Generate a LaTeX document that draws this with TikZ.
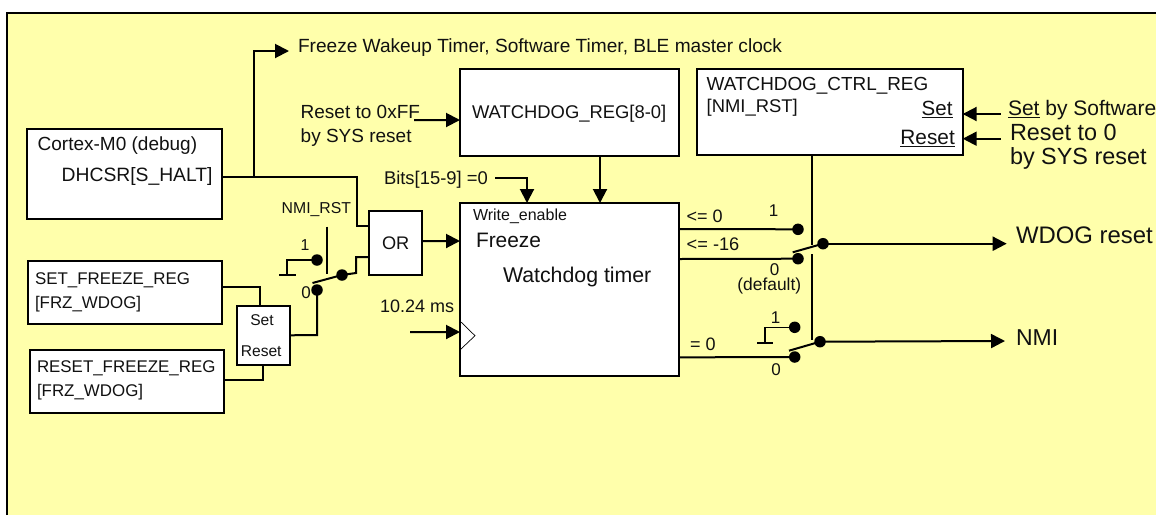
\documentclass[tikz,border=0pt]{standalone}
\usepackage{fontspec}
\setmainfont{Liberation Sans}
\usetikzlibrary{arrows.meta}
\definecolor{bgyellow}{HTML}{FFFFAB}
\definecolor{ink}{HTML}{111111}
\newcommand{\fsz}[1]{\fontsize{#1}{#1}\selectfont}
\tikzset{
  x=1pt,y=-1pt,
  regbox/.style={draw=black,fill=white,line width=2pt,anchor=north west,inner sep=0pt,outer sep=0pt},
  wire/.style={draw=black,line width=2pt,line join=miter},
  thinwire/.style={draw=black,line width=1.6pt},
  arrowwire/.style={wire,-{Triangle[length=14pt,width=14pt]}},
  dotnode/.style={circle,fill=black,inner sep=0pt,outer sep=0pt,minimum size=11.5pt},
  txt/.style={anchor=base west,inner sep=0pt,outer sep=0pt,text=ink},
  midtxt/.style={anchor=base,inner sep=0pt,outer sep=0pt,text=ink},
  rtxt/.style={anchor=base east,inner sep=0pt,outer sep=0pt,text=ink},
}
\begin{document}
\begin{tikzpicture}
\useasboundingbox (0,0) rectangle (1156,515);
\fill[bgyellow] (7,13) rectangle (1156,515);
\draw[black,line width=2.4pt] (7,515) -- (7,13) -- (1156,13);

% boxes
\node[regbox,minimum width=195pt,minimum height=89.7pt] (cortex) at (26.7,129) {};
\node[regbox,minimum width=194pt,minimum height=62.5pt] (setreg) at (28,261) {};
\node[regbox,minimum width=194pt,minimum height=62.5pt] (rstreg) at (30,350) {};
\node[regbox,minimum width=53pt,minimum height=59.5pt] (sr) at (237,305.5) {};
\node[regbox,minimum width=53pt,minimum height=64pt] (orbox) at (369,210.7) {};
\node[regbox,minimum width=219pt,minimum height=172.7pt] (timer) at (460,203) {};
\node[regbox,minimum width=219pt,minimum height=86.7pt] (wreg) at (460,69) {};
\node[regbox,minimum width=266pt,minimum height=86pt] (ctrl) at (696.7,69) {};

% switch contacts
\node[dotnode] (l1) at (317,260) {};
\node[dotnode] (l0) at (317,290) {};
\node[dotnode] (lp) at (342,275) {};
\node[dotnode] (a1) at (798,229.3) {};
\node[dotnode] (a0) at (798,258.7) {};
\node[dotnode] (ap) at (823,243.7) {};
\node[dotnode] (b1) at (794.7,327.3) {};
\node[dotnode] (b0) at (794.7,357) {};
\node[dotnode] (bp) at (820,341.7) {};

% free ends
\coordinate (frz) at (289,51);
\coordinate (rstff) at (414,120);
\coordinate (bitsend) at (495,177.7);
\coordinate (clk) at (410,332);
\coordinate (setsw) at (1000.7,114);
\coordinate (rstsw) at (1000.7,138.7);
\coordinate (wdogend) at (1006.7,243.7);
\coordinate (nmiend) at (1005,341);
\coordinate (gl) at (287,275);
\coordinate (gb) at (765,343);
\coordinate (leverl) at (312.5,283);
\coordinate (levera) at (792.7,252.3);
\coordinate (leverb) at (789,350.7);
\coordinate (nmirst) at (327,226.7);
\coordinate (nmirste) at (327,274);
\coordinate (ctrlj) at (812,245);
\coordinate (ctrlk) at (812,254);
\coordinate (ctrlm) at (812,340);
\coordinate (corj) at (254,176.7);

% left wires
\draw[wire] ([yshift=-2.85pt]cortex.east) -- (357,176.7) -- (357,226) -- ([yshift=16.7pt]orbox.west);
\draw[arrowwire] (corj) -- (254,51) -- (frz);
\draw[wire] (lp.center) -- (356,273) -- (356,257) -- ([yshift=-14.3pt]orbox.west);
\draw[wire] (sr.east) -- (317,335.2) -- (l0.center);
\draw[wire] ([yshift=5.75pt]setreg.east) -- (260,286.5) -- ([xshift=-3.5pt]sr.north);
\draw[wire] ([yshift=1.25pt]rstreg.east) -- (263,380) -- ([xshift=-0.5pt]sr.south);
\draw[thinwire] (l1.center) -- (287,260) -- (gl);
\draw[thinwire] (279,275) -- (296,275);
\draw[wire] (nmirst) -- (nmirste);
\draw[wire] (leverl) -- (lp.center);

% inputs of the blocks
\draw[arrowwire] ([yshift=1.7pt]orbox.east) -- ([yshift=48.35pt]timer.west);
\draw[arrowwire] (clk) -- ([yshift=-42.65pt]timer.west);
\draw[arrowwire] (rstff) -- ([yshift=-7.65pt]wreg.west);
\draw[arrowwire] ([xshift=30.5pt]wreg.south) -- ([xshift=30.5pt]timer.north);
\draw[arrowwire] (bitsend) -- (527,177.7) -- ([xshift=-42.5pt]timer.north);
\draw[arrowwire] (setsw) -- ([yshift=-2pt]ctrl.east);
\draw[arrowwire] (rstsw) -- ([yshift=-26.7pt]ctrl.east);

% right side
\draw[wire] ([xshift=-17.7pt]ctrl.south) -- (ctrlj);
\draw[wire] (ctrlk) -- (ctrlm);
\draw[wire] ([yshift=60.35pt]timer.east) -- (a1.center);
\draw[wire] ([yshift=30.35pt]timer.east) -- (a0.center);
\draw[wire] ([yshift=-68pt]timer.east) -- (b0.center);
\draw[wire] (levera) -- (ap.center);
\draw[wire] (leverb) -- (bp.center);
\draw[arrowwire] (ap.center) -- (wdogend);
\draw[arrowwire] (bp.center) -- (nmiend);
\draw[thinwire] (b1.center) -- (765,327.3) -- (gb);
\draw[thinwire] (757,343) -- (773,343);

% clock mark
\draw[black,line width=0.7pt] (461,322) -- (475,335.7) -- (461,349);

% labels
\node[txt,font=\fsz{19.1}] (tfrz) at (298,52.7) {Freeze Wakeup Timer, Software Timer, BLE master clock};
\node[txt,font=\fsz{19}] (trst1) at (300.7,118) {Reset to 0xFF};
\node[txt,font=\fsz{19}] (trst2) at (300.7,142) {by SYS reset};
\node[txt,font=\fsz{18.4}] (twreg) at (472,118) {WATCHDOG\_REG[8-0]};
\node[txt,font=\fsz{18.9}] (tctrl1) at (706.7,90) {WATCHDOG\_CTRL\_REG};
\node[txt,font=\fsz{18.4}] (tctrl2) at (706.7,112.3) {[NMI\_RST]};
\node[rtxt,font=\fsz{20.5}] (tset) at (952.5,115.7) {\underline{Set}};
\node[rtxt,font=\fsz{20.8}] (treset) at (954.8,144.3) {\underline{Reset}};
\node[txt,font=\fsz{21}] (tsw) at (1008,115.7) {\underline{Set} by Software};
\node[txt,font=\fsz{23.4}] (tr0) at (1010,140) {Reset to 0};
\node[txt,font=\fsz{23.4}] (tr1) at (1010,164) {by SYS reset};
\node[txt,font=\fsz{19}] (tcm) at (37.7,150) {Cortex-M0 (debug)};
\node[txt,font=\fsz{19.3}] (tdh) at (61.7,181) {DHCSR[S\_HALT]};
\node[txt,font=\fsz{16.9}] (ts1) at (35,284) {SET\_FREEZE\_REG};
\node[txt,font=\fsz{16.9}] (ts2) at (35,308) {[FRZ\_WDOG]};
\node[txt,font=\fsz{16.9}] (tr3) at (37,372) {RESET\_FREEZE\_REG};
\node[txt,font=\fsz{16.9}] (tr4) at (37,396.7) {[FRZ\_WDOG]};
\node[midtxt,font=\fsz{15.6}] (tsrs) at (262,325) {Set};
\node[midtxt,font=\fsz{15.6}] (tsrr) at (261.2,356.7) {Reset};
\node[txt,font=\fsz{15.8}] (tnmi) at (281.7,213) {NMI\_RST};
\node[midtxt,font=\fsz{15.8}] (tl1) at (305,250) {1};
\node[midtxt,font=\fsz{17}] (tl0) at (306,298) {0};
\node[midtxt,font=\fsz{18.2}] (tor) at (395.7,249.3) {OR};
\node[txt,font=\fsz{18}] (tclk) at (380,312.7) {10.24 ms};
\node[txt,font=\fsz{18.4}] (tbits) at (384,184) {Bits[15-9] =0};
\node[txt,font=\fsz{16}] (twe) at (473,220) {Write\_enable};
\node[txt,font=\fsz{20.9}] (tfz) at (476,247) {Freeze};
\node[txt,font=\fsz{21.3}] (twt) at (503,282.7) {Watchdog timer};
\node[txt,font=\fsz{18}] (tle0) at (686.7,222) {<= 0};
\node[txt,font=\fsz{18.2}] (tle16) at (686.7,250.7) {<= -16};
\node[midtxt,font=\fsz{17}] (tu1) at (773.5,216.7) {1};
\node[midtxt,font=\fsz{17}] (tu0) at (774.7,275) {0};
\node[midtxt,font=\fsz{17.4}] (tdef) at (769.3,290) {(default)};
\node[midtxt,font=\fsz{17}] (tb1) at (775.7,323) {1};
\node[txt,font=\fsz{18}] (teq) at (690,350.7) {= 0};
\node[midtxt,font=\fsz{17}] (tb0) at (776,375) {0};
\node[txt,font=\fsz{23.9}] (twd) at (1016,243) {WDOG reset};
\node[txt,font=\fsz{23}] (tnm) at (1016,345) {NMI};
\end{tikzpicture}
\end{document}
